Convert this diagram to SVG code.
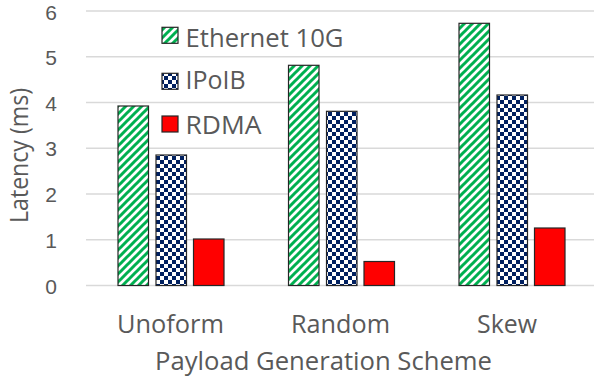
<svg xmlns="http://www.w3.org/2000/svg" width="594" height="379" viewBox="0 0 594 379">
  <style>
    .txt { font-family: "Open Sans", "Liberation Sans", sans-serif; fill: #595959; }
    .tick { font-family: "Liberation Sans", "Open Sans", sans-serif; font-size: 21px; text-anchor: end; }
    .cat { font-size: 25px; text-anchor: middle; }
    .leg { font-size: 25px; }
    .grid { stroke: #d9d9d9; stroke-width: 1.5; }
    .bar { stroke: #262626; stroke-width: 1.2; }
    .eth { fill: url(#stripes); }
    .ipoib { fill: url(#checks); }
    .rdma { fill: #ff0000; }
  </style>
  <defs>
    <!-- upward diagonal green stripes -->
    <pattern id="stripes" patternUnits="userSpaceOnUse" width="8" height="8">
      <rect width="8" height="8" fill="#ffffff"/>
      <path d="M-2,2 L2,-2 M0,8 L8,0 M6,10 L10,6" stroke="#00b050" stroke-width="3"/>
    </pattern>
    <!-- navy / white checkerboard -->
    <pattern id="checks" patternUnits="userSpaceOnUse" width="8" height="8">
      <rect width="8" height="8" fill="#ffffff"/>
      <rect x="0" y="0" width="4" height="4" fill="#002060"/>
      <rect x="4" y="4" width="4" height="4" fill="#002060"/>
    </pattern>
  </defs>
  <rect width="594" height="379" fill="#ffffff"/>

  <!-- gridlines -->
  <g id="gridlines">
    <line class="grid" x1="86" y1="11" x2="594" y2="11"/>
    <line class="grid" x1="86" y1="56.75" x2="594" y2="56.75"/>
    <line class="grid" x1="86" y1="102.5" x2="594" y2="102.5"/>
    <line class="grid" x1="86" y1="148.25" x2="594" y2="148.25"/>
    <line class="grid" x1="86" y1="194" x2="594" y2="194"/>
    <line class="grid" x1="86" y1="239.75" x2="594" y2="239.75"/>
    <line class="grid" x1="86" y1="285.5" x2="594" y2="285.5"/>
  </g>

  <!-- y axis -->
  <g id="y-axis" class="txt">
    <text class="tick" x="57" y="20">6</text>
    <text class="tick" x="57" y="65">5</text>
    <text class="tick" x="57" y="110.5">4</text>
    <text class="tick" x="57" y="156.25">3</text>
    <text class="tick" x="57" y="202">2</text>
    <text class="tick" x="57" y="247.75">1</text>
    <text class="tick" x="57" y="293.5">0</text>
    <text class="cat" transform="translate(28,155.5) rotate(-90)" textLength="135" lengthAdjust="spacingAndGlyphs">Latency (ms)</text>
  </g>

  <!-- bars: Uniform -->
  <g id="group-unoform">
    <rect class="bar eth" x="118" y="106" width="30.5" height="179.5"/>
    <rect class="bar ipoib" x="156" y="155" width="30.5" height="130.5"/>
    <rect class="bar rdma" x="193.5" y="239" width="30.5" height="46.5"/>
  </g>
  <!-- bars: Random -->
  <g id="group-random">
    <rect class="bar eth" x="288.5" y="65.3" width="30.5" height="220.2"/>
    <rect class="bar ipoib" x="326.5" y="111.3" width="30.5" height="174.2"/>
    <rect class="bar rdma" x="364" y="261.5" width="30.5" height="24"/>
  </g>
  <!-- bars: Skew -->
  <g id="group-skew">
    <rect class="bar eth" x="459" y="23.3" width="30.5" height="262.2"/>
    <rect class="bar ipoib" x="497" y="95" width="30.5" height="190.5"/>
    <rect class="bar rdma" x="534.5" y="228" width="30.5" height="57.5"/>
  </g>

  <!-- x axis labels -->
  <g id="x-axis" class="txt">
    <text class="cat" x="170.5" y="333" textLength="107" lengthAdjust="spacingAndGlyphs">Unoform</text>
    <text class="cat" x="340.5" y="333" textLength="99" lengthAdjust="spacingAndGlyphs">Random</text>
    <text class="cat" x="507" y="333" textLength="60" lengthAdjust="spacingAndGlyphs">Skew</text>
    <text class="cat" x="323.5" y="370" textLength="337" lengthAdjust="spacingAndGlyphs">Payload Generation Scheme</text>
  </g>

  <!-- legend -->
  <g id="legend" class="txt">
    <g id="legend-ethernet">
      <rect class="bar eth" x="162" y="27.3" width="16" height="16"/>
      <text class="leg" x="185.5" y="46.5" textLength="158" lengthAdjust="spacingAndGlyphs">Ethernet 10G</text>
    </g>
    <g id="legend-ipoib">
      <rect class="bar ipoib" x="162" y="73.3" width="16" height="16"/>
      <text class="leg" x="185.5" y="89" textLength="60" lengthAdjust="spacingAndGlyphs">IPoIB</text>
    </g>
    <g id="legend-rdma">
      <rect class="bar rdma" x="162" y="116" width="16" height="16"/>
      <text class="leg" x="185.5" y="134" textLength="76" lengthAdjust="spacingAndGlyphs">RDMA</text>
    </g>
  </g>
</svg>
